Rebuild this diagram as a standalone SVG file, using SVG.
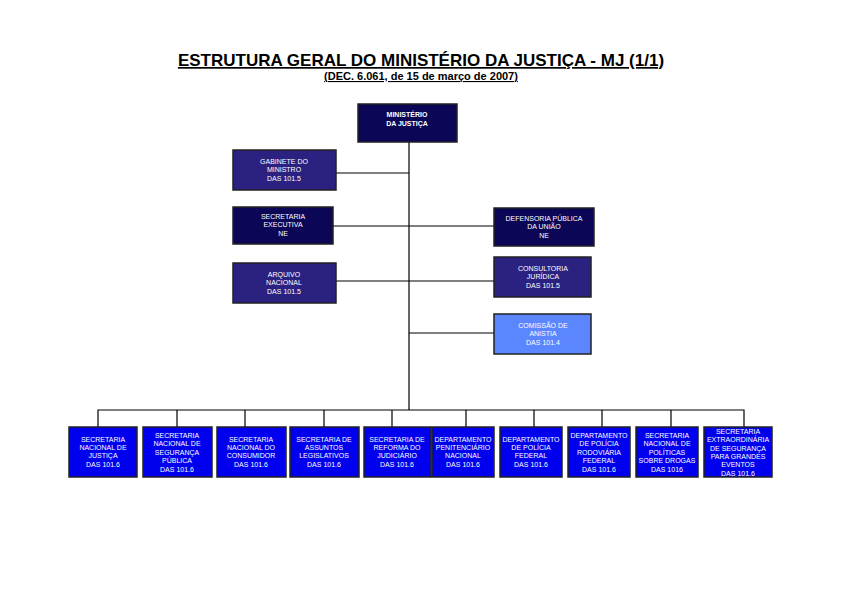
<svg xmlns="http://www.w3.org/2000/svg" width="842" height="595" viewBox="0 0 842 595">
<style>
text{font-family:"Liberation Sans",Arial,sans-serif;fill:#fff;text-anchor:middle;font-size:7px}
.b rect{stroke:#222;stroke-width:1.5}
.dk{fill:#0b0655}.md{fill:#2b2180}.lt{fill:#5b86ff}.bl{fill:#0000ee}
#c path{stroke:#000;stroke-width:1.2;fill:none}
text.t{fill:#000;font-weight:bold;text-decoration:underline}
text.t1{font-size:17px}
text.t2{font-size:11px}
</style>
<rect width="842" height="595" fill="#fff"/>
<text class="t t1" x="421" y="66">ESTRUTURA GERAL DO MINISTÉRIO DA JUSTIÇA - MJ (1/1)</text>
<text class="t t2" x="421" y="80">(DEC. 6.061, de 15 de março de 2007)</text>
<g id="c">
<path d="M409 142V410M336 173H409M333 226H494M336 281H494M409 333H494M98 427V410H744V427M177 410V427M245 410V427M324 410V427M392 410V427M466 410V427M534 410V427M602 410V427M671 410V427"/>
</g>
<g class="b">
<g id="mj"><rect class="dk" x="358" y="104" width="99" height="38"/><text x="407" y="117" font-weight="bold">MINISTÉRIO</text><text x="407" y="126" font-weight="bold">DA JUSTIÇA</text></g>
<g id="gab"><rect class="md" x="233" y="150" width="103" height="40"/><text x="284" y="164">GABINETE DO</text><text x="284" y="172">MINISTRO</text><text x="284" y="181">DAS 101.5</text></g>
<g id="sec"><rect class="dk" x="233" y="207" width="100" height="37"/><text x="283" y="219">SECRETARIA</text><text x="283" y="227">EXECUTIVA</text><text x="283" y="236">NE</text></g>
<g id="arq"><rect class="md" x="233" y="263" width="103" height="40"/><text x="284" y="277">ARQUIVO</text><text x="284" y="285">NACIONAL</text><text x="284" y="294">DAS 101.5</text></g>
<g id="def"><rect class="dk" x="494" y="208" width="100" height="38"/><text x="544" y="221">DEFENSORIA PÚBLICA</text><text x="544" y="229">DA UNIÃO</text><text x="544" y="238">NE</text></g>
<g id="con"><rect class="md" x="494" y="257" width="97" height="40"/><text x="543" y="271">CONSULTORIA</text><text x="543" y="279">JURÍDICA</text><text x="543" y="288">DAS 101.5</text></g>
<g id="com"><rect class="lt" x="494" y="314" width="97" height="40"/><text x="543" y="328">COMISSÃO DE</text><text x="543" y="336">ANISTIA</text><text x="543" y="345">DAS 101.4</text></g>
<g id="b1"><rect class="bl" x="69" y="427" width="68" height="50"/><text x="103" y="442">SECRETARIA</text><text x="103" y="450">NACIONAL DE</text><text x="103" y="458">JUSTIÇA</text><text x="103" y="467">DAS 101.6</text></g>
<g id="b2"><rect class="bl" x="143" y="427" width="69" height="50"/><text x="177" y="438">SECRETARIA</text><text x="177" y="446">NACIONAL DE</text><text x="177" y="455">SEGURANÇA</text><text x="177" y="463">PÚBLICA</text><text x="177" y="472">DAS 101.6</text></g>
<g id="b3"><rect class="bl" x="217" y="427" width="69" height="50"/><text x="251" y="442">SECRETARIA</text><text x="251" y="450">NACIONAL DO</text><text x="251" y="458">CONSUMIDOR</text><text x="251" y="467">DAS 101.6</text></g>
<g id="b4"><rect class="bl" x="290" y="427" width="69" height="50"/><text x="324" y="442">SECRETARIA DE</text><text x="324" y="450">ASSUNTOS</text><text x="324" y="458">LEGISLATIVOS</text><text x="324" y="467">DAS 101.6</text></g>
<g id="b5"><rect class="bl" x="364" y="427" width="67" height="50"/><text x="397" y="442">SECRETARIA DE</text><text x="397" y="450">REFORMA DO</text><text x="397" y="458">JUDICIÁRIO</text><text x="397" y="467">DAS 101.6</text></g>
<g id="b6"><rect class="bl" x="432" y="427" width="62" height="50"/><text x="463" y="442">DEPARTAMENTO</text><text x="463" y="450">PENITENCIÁRIO</text><text x="463" y="458">NACIONAL</text><text x="463" y="467">DAS 101.6</text></g>
<g id="b7"><rect class="bl" x="500" y="427" width="62" height="50"/><text x="531" y="442">DEPARTAMENTO</text><text x="531" y="450">DE POLÍCIA</text><text x="531" y="458">FEDERAL</text><text x="531" y="467">DAS 101.6</text></g>
<g id="b8"><rect class="bl" x="568" y="427" width="62" height="50"/><text x="599" y="438">DEPARTAMENTO</text><text x="599" y="446">DE POLÍCIA</text><text x="599" y="455">RODOVIÁRIA</text><text x="599" y="463">FEDERAL</text><text x="599" y="472">DAS 101.6</text></g>
<g id="b9"><rect class="bl" x="636" y="427" width="62" height="50"/><text x="667" y="438">SECRETARIA</text><text x="667" y="446">NACIONAL DE</text><text x="667" y="455">POLÍTICAS</text><text x="667" y="463">SOBRE DROGAS</text><text x="667" y="472">DAS 1016</text></g>
<g id="b10"><rect class="bl" x="704" y="427" width="68" height="50"/><text x="738" y="434">SECRETARIA</text><text x="738" y="442">EXTRAORDINÁRIA</text><text x="738" y="451">DE SEGURANÇA</text><text x="738" y="459">PARA GRANDES</text><text x="738" y="467">EVENTOS</text><text x="738" y="476">DAS 101.6</text></g>
</g>
</svg>
